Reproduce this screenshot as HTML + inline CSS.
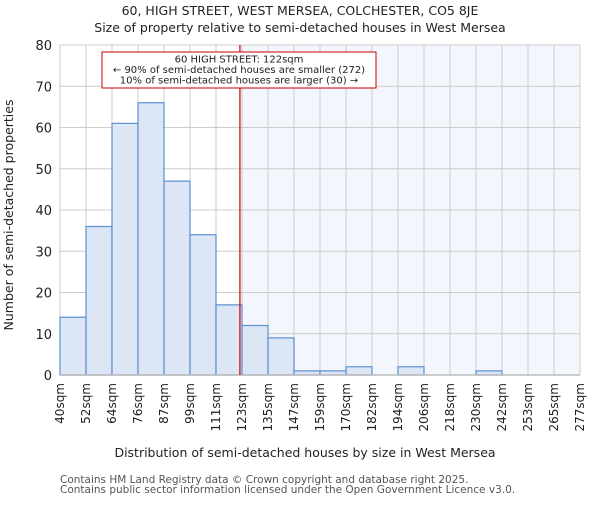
<!DOCTYPE html>
<html><head><meta charset="utf-8"><style>body{margin:0;background:#fff}svg text{font-family:"DejaVu Sans","Liberation Sans",sans-serif;fill:#222}</style></head>
<body>
<svg id="c" width="600" height="500" viewBox="0 0 600 500">
<text x="300" y="15" text-anchor="middle" font-size="12.5">60, HIGH STREET, WEST MERSEA, COLCHESTER, CO5 8JE</text>
<text x="300" y="32" text-anchor="middle" font-size="12.5">Size of property relative to semi-detached houses in West Mersea</text>
<g id="plot"></g>
<text x="305" y="457" text-anchor="middle" font-size="12.5">Distribution of semi-detached houses by size in West Mersea</text>
<text transform="translate(13,215) rotate(-90)" text-anchor="middle" font-size="12.5">Number of semi-detached properties</text>
<text x="60" y="483" font-size="10.5" style="fill:#555">Contains HM Land Registry data © Crown copyright and database right 2025.</text>
<text x="60" y="493" font-size="10.5" style="fill:#555">Contains public sector information licensed under the Open Government Licence v3.0.</text>
</svg>
<script>
const binLabels=["40sqm","52sqm","64sqm","76sqm","87sqm","99sqm","111sqm","123sqm","135sqm","147sqm","159sqm","170sqm","182sqm","194sqm","206sqm","218sqm","230sqm","242sqm","253sqm","265sqm","277sqm"];
const counts=[14,36,61,66,47,34,17,12,9,1,1,2,0,2,0,0,1,0,0,0];
const yTicks=[0,10,20,30,40,50,60,70,80];
const propertySize=122;
const binStart=40, binEnd=277;
const NS="http://www.w3.org/2000/svg";
const g=document.getElementById('plot');
const L=60,R=580,T=45,B=375;
const n=counts.length, bw=(R-L)/n;
const y=v=>B-(v/80)*(B-T);
const xs=s=>L+(s-binStart)/(binEnd-binStart)*(R-L);
function el(t,a){const e=document.createElementNS(NS,t);for(const k in a)e.setAttribute(k,a[k]);g.appendChild(e);return e;}
const rx=xs(propertySize);
let e=el('rect',{x:rx,y:T,width:R-rx,height:B-T,fill:'#f3f6fc'});


yTicks.forEach(t=>{let l=el('line',{x1:L,x2:R,y1:y(t),y2:y(t),stroke:'#ccc','stroke-width':1});


let tx=el('text',{x:L-8,y:y(t)+5,'text-anchor':'end','font-size':13});tx.textContent=t;

});
binLabels.forEach((lb,i)=>{const x=L+i*bw;
let l=el('line',{x1:x,x2:x,y1:T,y2:B,stroke:'#ccc','stroke-width':1});


let tx=el('text',{transform:`translate(${x+4},383) rotate(-90)`,'text-anchor':'end','font-size':12});tx.textContent=lb;

});
counts.forEach((v,i)=>{if(v<=0)return;const x=L+i*bw;
let r=el('rect',{x:x,y:y(v),width:bw,height:B-y(v),fill:'#dce6f4',stroke:'#5b8fd4','stroke-width':1.2});

});
let ax=el('line',{x1:L,x2:R,y1:B,y2:B,stroke:'#bbb','stroke-width':1.5});


let ml=el('line',{x1:rx,x2:rx,y1:T,y2:B,stroke:'#cc0000','stroke-width':1.2});


let bx=el('rect',{x:102,y:52,width:274,height:36,fill:'#fff',stroke:'#cc0000','stroke-width':1});


["60 HIGH STREET: 122sqm","← 90% of semi-detached houses are smaller (272)","10% of semi-detached houses are larger (30) →"].forEach((s,i)=>{
let t=el('text',{x:239,y:62.5+i*10.5,'text-anchor':'middle','font-size':10});t.textContent=s;

});
</script>
</body></html>
